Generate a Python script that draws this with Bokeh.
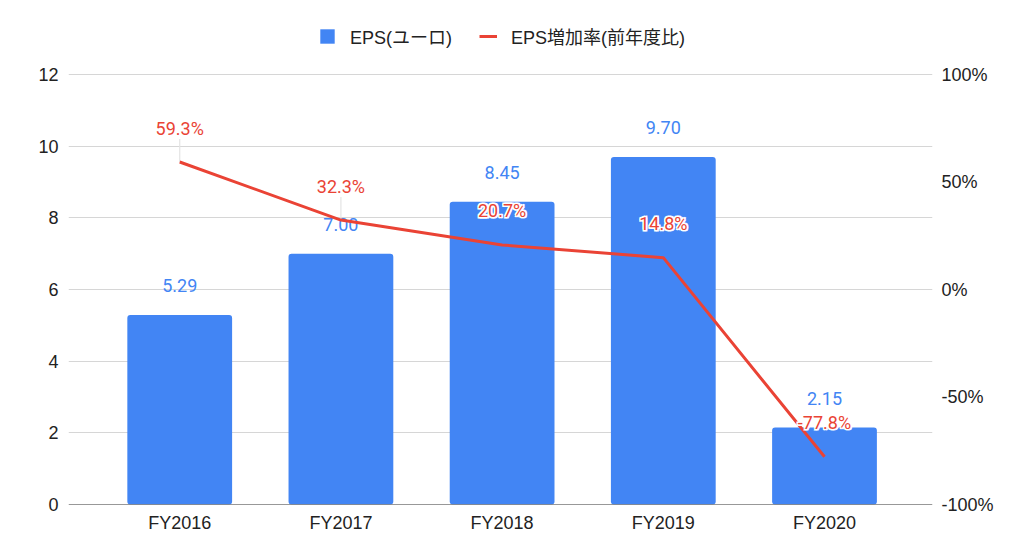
from bokeh.plotting import figure
from bokeh.models import (ColumnDataSource, Range1d, LinearAxis, FixedTicker,
                          PrintfTickFormatter, Legend, LegendItem, Span)
from bokeh.core.properties import value
from bokeh.embed import file_html
from bokeh.resources import INLINE

# ---- data ----
categories = ["FY2016", "FY2017", "FY2018", "FY2019", "FY2020"]
eps = [5.29, 7.00, 8.45, 9.70, 2.15]
growth_pct = [59.3, 32.3, 20.7, 14.8, -77.8]
left_ticks = [0, 2, 4, 6, 8, 10, 12]
right_ticks = [-100, -50, 0, 50, 100]

BLUE = "#4285F4"
RED = "#EA4335"
TICK_FONT = "Liberation Sans, Arial, Noto Sans CJK JP"
LABEL_FONT = "Roboto"

xs = list(range(len(categories)))

# layout: data area is 430px tall; the frame extends above it to host the legend
DATA_H = 430
TOP_PAD = 64
FRAME_H = DATA_H + TOP_PAD
LEFT_MAX = 12
PCT_MIN, PCT_MAX = -100, 100
px_per_pct = DATA_H / (PCT_MAX - PCT_MIN)
px_per_left = DATA_H / LEFT_MAX
left_top = LEFT_MAX * FRAME_H / DATA_H
pct_top = PCT_MIN + (PCT_MAX - PCT_MIN) * FRAME_H / DATA_H

p = figure(width=1024, height=560, output_backend="svg", toolbar_location=None,
           x_range=Range1d(-0.69, 4.67), y_range=Range1d(0, left_top),
           min_border_left=68, min_border_right=92, min_border_top=74 - TOP_PAD,
           min_border_bottom=56)
p.outline_line_color = None
p.background_fill_color = "white"
p.border_fill_color = "white"
p.extra_y_ranges = {"pct": Range1d(PCT_MIN, pct_top)}

p.xaxis.ticker = FixedTicker(ticks=xs)
p.xaxis.major_label_overrides = {i: c for i, c in zip(xs, categories)}
p.yaxis.ticker = FixedTicker(ticks=left_ticks)
right = LinearAxis(y_range_name="pct", ticker=FixedTicker(ticks=right_ticks),
                   formatter=PrintfTickFormatter(format="%d%%"))
p.add_layout(right, "right")
for ax in [p.xaxis[0], p.yaxis[0], right]:
    ax.axis_line_color = None
    ax.major_tick_line_color = None
    ax.minor_tick_line_color = None
    ax.major_tick_out = 0
    ax.major_tick_in = 0
    ax.minor_tick_out = 0
    ax.minor_tick_in = 0
    ax.major_label_text_font = TICK_FONT
    ax.major_label_text_font_size = "18px"
    ax.major_label_text_color = "#222222"
p.yaxis[0].major_label_standoff = 10
right.major_label_standoff = 9
p.xaxis[0].major_label_standoff = 8

p.xgrid.grid_line_color = None
p.ygrid.grid_line_color = "#d6d6d6"
p.ygrid.ticker = FixedTicker(ticks=left_ticks)

src = ColumnDataSource(dict(
    x=xs, eps=eps, g=growth_pct,
    eps_lbl=[f"{v:.2f}" for v in eps],
    g_lbl=[f"{v:.1f}%" for v in growth_pct],
))

bars = p.vbar(x="x", top="eps", width=0.65, source=src, fill_color=BLUE,
              line_color=None, border_radius=3)
p.add_layout(Span(location=0, dimension="width", line_color="#333333", line_width=1))

p.text(x="x", y="eps", text="eps_lbl", source=src, text_color=BLUE,
       text_font=value(LABEL_FONT), text_font_size="18px", text_align="center",
       text_baseline="middle", y_offset=-29)

# leader lines where the point sits above its bar
lead_x, lead_y0, lead_y1 = [], [], []
for x, v, g in zip(xs, eps, growth_pct):
    point_left_units = (g - PCT_MIN) * px_per_pct / px_per_left
    if point_left_units > v:
        lead_x.append(x)
        lead_y0.append(g)
        lead_y1.append(g + 23 / px_per_pct)
p.segment(x0=lead_x, x1=lead_x, y0=lead_y0, y1=lead_y1, y_range_name="pct",
          line_color="#e4e4e4", line_width=1.2)

line = p.line(x="x", y="g", source=src, y_range_name="pct", line_color=RED,
              line_width=3)

# white halo beneath the red labels
for dx, dy in [(-1, -1), (1, -1), (-1, 1), (1, 1)]:
    p.text(x="x", y="g", text="g_lbl", source=src, y_range_name="pct",
           text_color="white", text_font=value(LABEL_FONT), text_font_size="18px",
           text_align="center", text_baseline="middle", x_offset=dx,
           y_offset=-34 + dy, text_outline_color="white")
p.text(x="x", y="g", text="g_lbl", source=src, y_range_name="pct",
       text_color=RED, text_font=value(LABEL_FONT), text_font_size="18px",
       text_align="center", text_baseline="middle", y_offset=-34)

legend = Legend(items=[LegendItem(label="EPS(ユーロ)", renderers=[bars]),
                       LegendItem(label="EPS増加率(前年度比)", renderers=[line])],
                orientation="horizontal", location=(250, DATA_H + 25),
                glyph_width=18, glyph_height=18, label_height=18,
                label_standoff=14, spacing=27, padding=0, margin=0,
                border_line_alpha=0, background_fill_alpha=0,
                label_text_font=TICK_FONT, label_text_font_size="18px",
                label_text_color="#222222")
p.add_layout(legend, "center")

open("out.html", "w").write(file_html(p, INLINE))
